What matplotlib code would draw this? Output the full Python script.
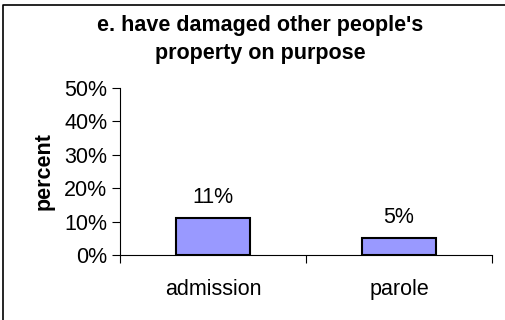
import matplotlib
matplotlib.use("Agg")
import matplotlib.pyplot as plt
from matplotlib.lines import Line2D
from matplotlib.ticker import FuncFormatter, FixedLocator

categories = ["admission", "parole"]
values = [11, 5]
labels = ["11%", "5%"]
title = "e. have damaged other people's\nproperty on purpose"
yticks = [0, 10, 20, 30, 40, 50]

plt.rcParams['font.family'] = ['Liberation Sans', 'DejaVu Sans']
FS = 15.5

fig = plt.figure(figsize=(5.06, 3.2), dpi=100)
fig.add_artist(Line2D([3.5/506, 3.5/506, 1.0], [0.0, 1 - 4.5/320, 1 - 4.5/320],
                      transform=fig.transFigure, color='black', linewidth=1.2))

ax = fig.add_axes([120/506, 1 - 255/320, 372/506, 167/320])
x = list(range(len(categories)))
ax.bar(x, values, width=0.4, color='#9999FF', edgecolor='black', linewidth=1.5)
for xi, v, lab in zip(x, values, labels):
    ax.text(xi, v + 6.2, lab, ha='center', va='center', fontsize=FS)

ax.set_xlim(-0.5, len(categories) - 0.5)
ax.set_ylim(0, 50)
ax.set_yticks(yticks)
ax.yaxis.set_major_formatter(FuncFormatter(lambda v, p: f"{int(v)}%"))
ax.set_xticks(x)
ax.set_xticklabels(categories, fontsize=FS)
ax.xaxis.set_minor_locator(FixedLocator([-0.5, 0.5, 1.5]))
ax.tick_params(axis='x', which='major', length=0, pad=17)
ax.tick_params(axis='x', which='minor', length=6, direction='out', width=0.8)
ax.tick_params(axis='y', length=6, direction='out', width=0.8, labelsize=FS, pad=3)
for s in ['top', 'right']:
    ax.spines[s].set_visible(False)
ax.spines['left'].set_linewidth(0.8)
ax.spines['bottom'].set_linewidth(0.8)
ax.set_ylabel("percent", fontsize=FS, fontweight='bold', labelpad=7)

fig.text(260/506, 1 - 39.5/320, title, ha='center', va='center', fontsize=FS,
         fontweight='bold', linespacing=1.5)

fig.savefig("out.png", dpi=100)
